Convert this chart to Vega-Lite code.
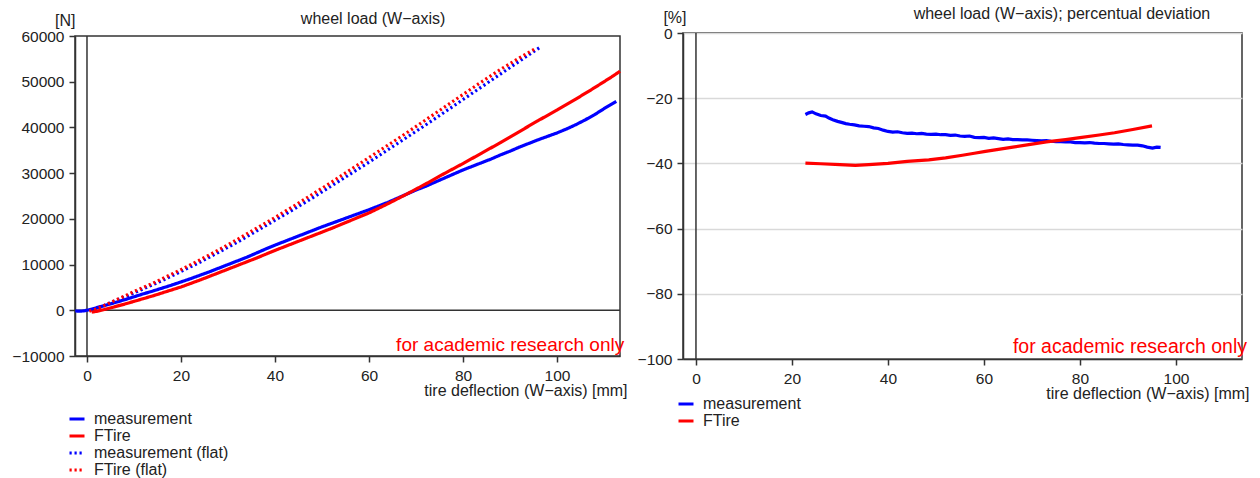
{
  "$schema": "https://vega.github.io/schema/vega-lite/v6.json",
  "padding": {"left": 11, "top": 5, "right": 5, "bottom": 0},
  "background": "white",
  "config": {
    "font": "Liberation Sans",
    "view": {"stroke": "#333", "strokeWidth": 1.5},
    "axis": {
      "labelFontSize": 15.5, "labelColor": "#222", "domainColor": "#333", "domainWidth": 1.5,
      "tickColor": "#333", "tickWidth": 1.5, "tickSize": 6, "gridColor": "#d9d9d9", "gridWidth": 1.5,
      "titleFontSize": 16, "titleFontWeight": "normal", "titleColor": "#222"
    },
    "legend": {"labelFontSize": 16, "labelColor": "#222", "symbolType": "stroke", "symbolStrokeWidth": 3, "symbolSize": 225, "rowPadding": 0, "labelOffset": 8, "padding": 0}
  },
  "datasets": {
    "left": [
      {"series":"measurement","x":-2.5,"y":-150},{"series":"measurement","x":-1.5,"y":-200},{"series":"measurement","x":-0.5,"y":-100},{"series":"measurement","x":0,"y":0},{"series":"measurement","x":1,"y":250},{"series":"measurement","x":2,"y":550},{"series":"measurement","x":4,"y":1100},{"series":"measurement","x":6,"y":1700},{"series":"measurement","x":8,"y":2300},{"series":"measurement","x":10,"y":2950},{"series":"measurement","x":12,"y":3600},{"series":"measurement","x":14,"y":4200},{"series":"measurement","x":16,"y":4850},{"series":"measurement","x":18,"y":5500},{"series":"measurement","x":20,"y":6200},{"series":"measurement","x":22,"y":6900},{"series":"measurement","x":24,"y":7650},{"series":"measurement","x":26,"y":8400},{"series":"measurement","x":28,"y":9200},{"series":"measurement","x":30,"y":10000},{"series":"measurement","x":32,"y":10800},{"series":"measurement","x":34,"y":11600},{"series":"measurement","x":36,"y":12500},{"series":"measurement","x":38,"y":13400},{"series":"measurement","x":40,"y":14250},{"series":"measurement","x":42,"y":15050},{"series":"measurement","x":44,"y":15850},{"series":"measurement","x":46,"y":16650},{"series":"measurement","x":48,"y":17450},{"series":"measurement","x":50,"y":18250},{"series":"measurement","x":52,"y":19000},{"series":"measurement","x":54,"y":19750},{"series":"measurement","x":56,"y":20500},{"series":"measurement","x":58,"y":21250},{"series":"measurement","x":60,"y":22000},{"series":"measurement","x":62,"y":22800},{"series":"measurement","x":64,"y":23600},{"series":"measurement","x":66,"y":24500},{"series":"measurement","x":68,"y":25400},{"series":"measurement","x":70,"y":26300},{"series":"measurement","x":72,"y":27100},{"series":"measurement","x":74,"y":28000},{"series":"measurement","x":76,"y":28900},{"series":"measurement","x":78,"y":29800},{"series":"measurement","x":80,"y":30700},{"series":"measurement","x":82,"y":31500},{"series":"measurement","x":84,"y":32300},{"series":"measurement","x":86,"y":33100},{"series":"measurement","x":88,"y":34000},{"series":"measurement","x":90,"y":34800},{"series":"measurement","x":92,"y":35700},{"series":"measurement","x":94,"y":36500},{"series":"measurement","x":96,"y":37300},{"series":"measurement","x":98,"y":38050},{"series":"measurement","x":100,"y":38800},{"series":"measurement","x":102,"y":39650},{"series":"measurement","x":104,"y":40600},{"series":"measurement","x":106,"y":41650},{"series":"measurement","x":108,"y":42800},{"series":"measurement","x":110,"y":44100},{"series":"measurement","x":112.6,"y":45700},
      {"series":"FTire","x":1,"y":-400},{"series":"FTire","x":2,"y":-250},{"series":"FTire","x":4,"y":250},{"series":"FTire","x":6,"y":800},{"series":"FTire","x":8,"y":1350},{"series":"FTire","x":10,"y":1950},{"series":"FTire","x":12,"y":2550},{"series":"FTire","x":14,"y":3150},{"series":"FTire","x":16,"y":3800},{"series":"FTire","x":18,"y":4450},{"series":"FTire","x":20,"y":5100},{"series":"FTire","x":24,"y":6600},{"series":"FTire","x":28,"y":8200},{"series":"FTire","x":32,"y":9800},{"series":"FTire","x":36,"y":11400},{"series":"FTire","x":40,"y":13100},{"series":"FTire","x":44,"y":14700},{"series":"FTire","x":48,"y":16300},{"series":"FTire","x":52,"y":17900},{"series":"FTire","x":56,"y":19600},{"series":"FTire","x":60,"y":21300},{"series":"FTire","x":64,"y":23300},{"series":"FTire","x":68,"y":25400},{"series":"FTire","x":72,"y":27600},{"series":"FTire","x":76,"y":29900},{"series":"FTire","x":80,"y":32100},{"series":"FTire","x":84,"y":34400},{"series":"FTire","x":88,"y":36700},{"series":"FTire","x":92,"y":39100},{"series":"FTire","x":96,"y":41500},{"series":"FTire","x":100,"y":43800},{"series":"FTire","x":104,"y":46200},{"series":"FTire","x":108,"y":48700},{"series":"FTire","x":112,"y":51300},{"series":"FTire","x":113.4,"y":52300},
      {"series":"measurement (flat)","x":0.5,"y":0},{"series":"measurement (flat)","x":2,"y":400},{"series":"measurement (flat)","x":4,"y":1200},{"series":"measurement (flat)","x":6,"y":2100},{"series":"measurement (flat)","x":8,"y":2900},{"series":"measurement (flat)","x":10,"y":3800},{"series":"measurement (flat)","x":12,"y":4700},{"series":"measurement (flat)","x":14,"y":5600},{"series":"measurement (flat)","x":16,"y":6500},{"series":"measurement (flat)","x":18,"y":7500},{"series":"measurement (flat)","x":20,"y":8500},{"series":"measurement (flat)","x":24,"y":10500},{"series":"measurement (flat)","x":28,"y":12700},{"series":"measurement (flat)","x":32,"y":14900},{"series":"measurement (flat)","x":36,"y":17300},{"series":"measurement (flat)","x":40,"y":19700},{"series":"measurement (flat)","x":44,"y":22100},{"series":"measurement (flat)","x":48,"y":24600},{"series":"measurement (flat)","x":52,"y":27200},{"series":"measurement (flat)","x":56,"y":29800},{"series":"measurement (flat)","x":60,"y":32400},{"series":"measurement (flat)","x":64,"y":35100},{"series":"measurement (flat)","x":68,"y":37800},{"series":"measurement (flat)","x":72,"y":40500},{"series":"measurement (flat)","x":76,"y":43300},{"series":"measurement (flat)","x":80,"y":46100},{"series":"measurement (flat)","x":84,"y":48900},{"series":"measurement (flat)","x":88,"y":51700},{"series":"measurement (flat)","x":92,"y":54500},{"series":"measurement (flat)","x":96.5,"y":57600},
      {"series":"FTire (flat)","x":0.5,"y":-200},{"series":"FTire (flat)","x":2,"y":300},{"series":"FTire (flat)","x":4,"y":1200},{"series":"FTire (flat)","x":6,"y":2200},{"series":"FTire (flat)","x":8,"y":3100},{"series":"FTire (flat)","x":10,"y":4100},{"series":"FTire (flat)","x":12,"y":5000},{"series":"FTire (flat)","x":14,"y":5900},{"series":"FTire (flat)","x":16,"y":6900},{"series":"FTire (flat)","x":18,"y":7900},{"series":"FTire (flat)","x":20,"y":8900},{"series":"FTire (flat)","x":24,"y":11000},{"series":"FTire (flat)","x":28,"y":13200},{"series":"FTire (flat)","x":32,"y":15500},{"series":"FTire (flat)","x":36,"y":17900},{"series":"FTire (flat)","x":40,"y":20300},{"series":"FTire (flat)","x":44,"y":22800},{"series":"FTire (flat)","x":48,"y":25400},{"series":"FTire (flat)","x":52,"y":28000},{"series":"FTire (flat)","x":56,"y":30700},{"series":"FTire (flat)","x":60,"y":33400},{"series":"FTire (flat)","x":64,"y":36100},{"series":"FTire (flat)","x":68,"y":38800},{"series":"FTire (flat)","x":72,"y":41600},{"series":"FTire (flat)","x":76,"y":44400},{"series":"FTire (flat)","x":80,"y":47200},{"series":"FTire (flat)","x":84,"y":50000},{"series":"FTire (flat)","x":88,"y":52700},{"series":"FTire (flat)","x":92,"y":55200},{"series":"FTire (flat)","x":95.5,"y":57300}
    ],
    "right": [
      {"series":"measurement","x":22.8,"y":-25.0},{"series":"measurement","x":23.5,"y":-24.5},{"series":"measurement","x":24.2,"y":-24.2},{"series":"measurement","x":25,"y":-24.8},{"series":"measurement","x":26,"y":-25.3},{"series":"measurement","x":27,"y":-25.5},{"series":"measurement","x":27.7,"y":-26.1},{"series":"measurement","x":28.5,"y":-26.6},{"series":"measurement","x":29.5,"y":-27.1},{"series":"measurement","x":30.5,"y":-27.5},{"series":"measurement","x":31.2,"y":-27.8},{"series":"measurement","x":32,"y":-28.0},{"series":"measurement","x":33,"y":-28.2},{"series":"measurement","x":34,"y":-28.5},{"series":"measurement","x":35,"y":-28.6},{"series":"measurement","x":36,"y":-28.7},{"series":"measurement","x":37,"y":-29.1},{"series":"measurement","x":38,"y":-29.3},{"series":"measurement","x":39,"y":-29.8},{"series":"measurement","x":40,"y":-30.2},{"series":"measurement","x":41,"y":-30.4},{"series":"measurement","x":42,"y":-30.3},{"series":"measurement","x":43,"y":-30.6},{"series":"measurement","x":44,"y":-30.8},{"series":"measurement","x":45,"y":-30.7},{"series":"measurement","x":46,"y":-30.9},{"series":"measurement","x":47,"y":-30.8},{"series":"measurement","x":48,"y":-31.0},{"series":"measurement","x":49,"y":-31.1},{"series":"measurement","x":50,"y":-31.0},{"series":"measurement","x":51,"y":-31.2},{"series":"measurement","x":52,"y":-31.2},{"series":"measurement","x":53,"y":-31.4},{"series":"measurement","x":54,"y":-31.3},{"series":"measurement","x":55,"y":-31.6},{"series":"measurement","x":56,"y":-31.7},{"series":"measurement","x":57,"y":-31.6},{"series":"measurement","x":58,"y":-32.0},{"series":"measurement","x":59,"y":-32.1},{"series":"measurement","x":60,"y":-32.0},{"series":"measurement","x":61,"y":-32.3},{"series":"measurement","x":62,"y":-32.2},{"series":"measurement","x":63,"y":-32.4},{"series":"measurement","x":64,"y":-32.6},{"series":"measurement","x":65,"y":-32.5},{"series":"measurement","x":66,"y":-32.7},{"series":"measurement","x":67,"y":-32.7},{"series":"measurement","x":68,"y":-32.8},{"series":"measurement","x":69,"y":-32.8},{"series":"measurement","x":70,"y":-32.9},{"series":"measurement","x":71,"y":-33.0},{"series":"measurement","x":72,"y":-33.1},{"series":"measurement","x":73,"y":-33.0},{"series":"measurement","x":74,"y":-33.2},{"series":"measurement","x":75,"y":-33.3},{"series":"measurement","x":76,"y":-33.3},{"series":"measurement","x":77,"y":-33.4},{"series":"measurement","x":78,"y":-33.4},{"series":"measurement","x":79,"y":-33.6},{"series":"measurement","x":80,"y":-33.6},{"series":"measurement","x":81,"y":-33.7},{"series":"measurement","x":82,"y":-33.6},{"series":"measurement","x":83,"y":-33.8},{"series":"measurement","x":84,"y":-33.9},{"series":"measurement","x":85,"y":-33.9},{"series":"measurement","x":86,"y":-34.0},{"series":"measurement","x":87,"y":-34.1},{"series":"measurement","x":88,"y":-34.0},{"series":"measurement","x":89,"y":-34.2},{"series":"measurement","x":90,"y":-34.3},{"series":"measurement","x":91,"y":-34.4},{"series":"measurement","x":92,"y":-34.4},{"series":"measurement","x":93,"y":-34.6},{"series":"measurement","x":94,"y":-35.0},{"series":"measurement","x":95.1,"y":-35.3},{"series":"measurement","x":96,"y":-35.0},{"series":"measurement","x":96.8,"y":-35.1},
      {"series":"FTire","x":22.8,"y":-39.9},{"series":"FTire","x":26,"y":-40.1},{"series":"FTire","x":30,"y":-40.4},{"series":"FTire","x":33.2,"y":-40.6},{"series":"FTire","x":36,"y":-40.4},{"series":"FTire","x":40,"y":-40.0},{"series":"FTire","x":44,"y":-39.4},{"series":"FTire","x":48.5,"y":-38.9},{"series":"FTire","x":52,"y":-38.3},{"series":"FTire","x":55.5,"y":-37.5},{"series":"FTire","x":58,"y":-36.9},{"series":"FTire","x":60.3,"y":-36.3},{"series":"FTire","x":63,"y":-35.7},{"series":"FTire","x":66,"y":-35.0},{"series":"FTire","x":70,"y":-34.1},{"series":"FTire","x":73,"y":-33.4},{"series":"FTire","x":77,"y":-32.7},{"series":"FTire","x":80,"y":-32.1},{"series":"FTire","x":84,"y":-31.3},{"series":"FTire","x":87.2,"y":-30.6},{"series":"FTire","x":91,"y":-29.6},{"series":"FTire","x":95,"y":-28.5}
    ]
  },
  "hconcat": [
    {
      "width": 545, "height": 320,
      "layer": [
        {
          "data": {"values": [{}]},
          "mark": {"type": "rule", "color": "#333", "strokeWidth": 1.5},
          "encoding": {"x": {"datum": 0, "type": "quantitative"}}
        },
        {
          "data": {"values": [{}]},
          "mark": {"type": "rule", "color": "#333", "strokeWidth": 1.5},
          "encoding": {"y": {"datum": 0, "type": "quantitative"}}
        },
        {
          "data": {"name": "left"},
          "mark": {"type": "line", "strokeWidth": 3.2},
          "encoding": {
            "x": {"field": "x", "type": "quantitative", "scale": {"domain": [-2.55, 113.4], "nice": false, "zero": false},
              "axis": {"values": [0, 20, 40, 60, 80, 100], "title": "tire deflection (W−axis) [mm]", "titleAlign": "right", "titleAnchor": null, "titleX": 552, "titleY": 39, "titleBaseline": "alphabetic", "labelPadding": 6}},
            "y": {"field": "y", "type": "quantitative", "scale": {"domain": [-10000, 60000], "nice": false},
              "axis": {"values": [-10000, 0, 10000, 20000, 30000, 40000, 50000, 60000], "format": "d", "title": "[N]", "titleAngle": 0, "titleAlign": "right", "titleX": 0, "titleY": -11, "titleBaseline": "alphabetic", "labelPadding": 5}},
            "color": {"field": "series", "type": "nominal", "sort": null,
              "scale": {"domain": ["measurement", "FTire", "measurement (flat)", "FTire (flat)"], "range": ["#0000ff", "#ff0000", "#0000ff", "#ff0000"]},
              "legend": {"title": null, "orient": "none", "legendX": -7, "legendY": 374}},
            "strokeDash": {"field": "series", "type": "nominal", "sort": null,
              "scale": {"domain": ["measurement", "FTire", "measurement (flat)", "FTire (flat)"], "range": [[1, 0], [1, 0], [2.2, 2.8], [2.2, 2.8]]},
              "legend": {"title": null, "orient": "none", "legendX": -7, "legendY": 374}},
            "order": {"field": "x", "type": "quantitative"}
          }
        },
        {
          "data": {"values": [{"label": "for academic research only"}]},
          "mark": {"type": "text", "color": "#ff0000", "fontSize": 19, "align": "right", "baseline": "alphabetic"},
          "encoding": {"x": {"datum": 114.3, "type": "quantitative"}, "y": {"datum": -8850, "type": "quantitative"}, "text": {"field": "label"}}
        },
        {
          "data": {"values": [{"label": "wheel load (W−axis)"}]},
          "mark": {"type": "text", "color": "#222", "fontSize": 16, "align": "left", "baseline": "alphabetic"},
          "encoding": {"x": {"datum": 45.5, "type": "quantitative"}, "y": {"datum": 62630, "type": "quantitative"}, "text": {"field": "label"}}
        }
      ]
    },
    {
      "width": 559, "height": 326,
      "layer": [
        {
          "data": {"values": [{}]},
          "mark": {"type": "rule", "color": "#333", "strokeWidth": 1.5},
          "encoding": {"x": {"datum": 0, "type": "quantitative"}}
        },
        {
          "data": {"name": "right"},
          "mark": {"type": "line", "strokeWidth": 3.2},
          "encoding": {
            "x": {"field": "x", "type": "quantitative", "scale": {"domain": [-2.7, 113.75], "nice": false, "zero": false},
              "axis": {"values": [0, 20, 40, 60, 80, 100], "title": "tire deflection (W−axis) [mm]", "titleAlign": "right", "titleAnchor": null, "titleX": 566, "titleY": 39, "titleBaseline": "alphabetic", "labelPadding": 6}},
            "y": {"field": "y", "type": "quantitative", "scale": {"domain": [-100, 0], "nice": false},
              "axis": {"values": [-100, -80, -60, -40, -20, 0], "format": "d", "title": "[%]", "titleAngle": 0, "titleAlign": "right", "titleX": 3, "titleY": -11, "titleBaseline": "alphabetic", "labelPadding": 5}},
            "color": {"field": "series", "type": "nominal", "sort": null,
              "scale": {"domain": ["measurement", "FTire"], "range": ["#0000ff", "#ff0000"]},
              "legend": {"title": null, "orient": "none", "legendX": -6, "legendY": 362}},
            "order": {"field": "x", "type": "quantitative"}
          }
        },
        {
          "data": {"values": [{"label": "for academic research only"}]},
          "mark": {"type": "text", "color": "#ff0000", "fontSize": 19.5, "align": "right", "baseline": "alphabetic"},
          "encoding": {"x": {"datum": 114.8, "type": "quantitative"}, "y": {"datum": -98.3, "type": "quantitative"}, "text": {"field": "label"}}
        },
        {
          "data": {"values": [{"label": "wheel load (W−axis); percentual deviation"}]},
          "mark": {"type": "text", "color": "#222", "fontSize": 16, "align": "left", "baseline": "alphabetic"},
          "encoding": {"x": {"datum": 45.35, "type": "quantitative"}, "y": {"datum": 4.2, "type": "quantitative"}, "text": {"field": "label"}}
        }
      ]
    }
  ],
  "spacing": 63,
  "bounds": "flush",
  "center": true,
  "resolve": {"scale": {"x": "independent", "y": "independent", "color": "independent", "strokeDash": "independent"}, "legend": {"color": "independent", "strokeDash": "independent"}}
}
